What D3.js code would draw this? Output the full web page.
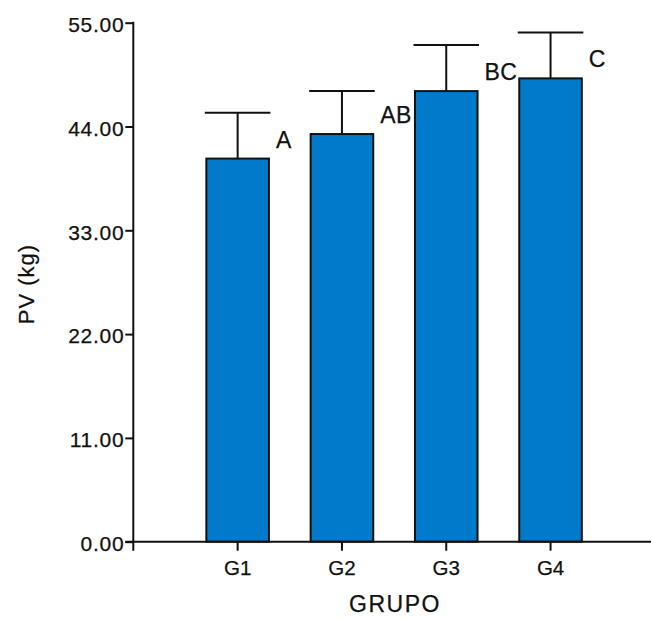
<!DOCTYPE html>
<html>
<head>
<meta charset="utf-8">
<script src="https://cdn.jsdelivr.net/npm/d3@7/dist/d3.min.js"></script>
<style>
  html, body { margin: 0; padding: 0; background: #fff; }
  svg { display: block; }
  text { font-family: "Liberation Sans", Arial, sans-serif; fill: #111; stroke: #111; stroke-width: 0.25px; }
</style>
</head>
<body>
<svg id="chart" width="651" height="619"></svg>
<script>
// ---- data ----
const groups = ["G1", "G2", "G3", "G4"];
const means = [40.6, 43.2, 47.75, 49.1];
const errTops = [45.45, 47.75, 52.65, 53.95];
const letters = ["A", "AB", "BC", "C"];
const yTicks = [0, 11, 22, 33, 44, 55];
const xTitle = "GRUPO";
const yTitle = "PV (kg)";

// ---- layout ----
const svg = d3.select("#chart");
const axisX = 133.3;
const y = d3.scaleLinear().domain([0, 55]).range([541.7, 22.7]);
const x = d3.scaleBand().domain(groups).range([185.5, 602.7])
  .paddingInner(0.4).paddingOuter(0.2);

const black = "#111";
const barColor = "#007bcc";

// bars
const g = svg.append("g");
g.selectAll("rect.bar").data(groups).join("rect")
  .attr("class", "bar")
  .attr("x", d => x(d))
  .attr("y", (d, i) => y(means[i]))
  .attr("width", x.bandwidth())
  .attr("height", (d, i) => y(0) - y(means[i]))
  .attr("fill", barColor)
  .attr("stroke", black)
  .attr("stroke-width", 2);

// error bars
const cx = d => x(d) + x.bandwidth() / 2;
const capHalf = x.bandwidth() / 2 + 1.5;
g.selectAll("line.err").data(groups).join("line")
  .attr("x1", cx).attr("x2", cx)
  .attr("y1", (d, i) => y(means[i]))
  .attr("y2", (d, i) => y(errTops[i]))
  .attr("stroke", black).attr("stroke-width", 2);
g.selectAll("line.cap").data(groups).join("line")
  .attr("x1", d => cx(d) - capHalf).attr("x2", d => cx(d) + capHalf)
  .attr("y1", (d, i) => y(errTops[i]))
  .attr("y2", (d, i) => y(errTops[i]))
  .attr("stroke", black).attr("stroke-width", 2);

// significance letters
g.selectAll("text.sig").data(groups).join("text")
  .attr("x", d => x(d) + x.bandwidth() + 7)
  .attr("y", (d, i) => y(means[i]) - 11)
  .attr("font-size", 23)
  .attr("letter-spacing", 0.3)
  .text((d, i) => letters[i]);

// y axis
const yAxis = d3.axisLeft(y).tickValues(yTicks)
  .tickFormat(d3.format(".2f")).tickSize(8).tickSizeOuter(0);
const ya = svg.append("g").attr("transform", `translate(${axisX},0)`).call(yAxis);
ya.select(".domain").remove();
ya.selectAll(".tick line").attr("stroke", black).attr("stroke-width", 2);
ya.selectAll(".tick text")
  .attr("font-size", 21).attr("letter-spacing", 0.7)
  .attr("x", -9).attr("dy", "0.42em")
  .style("font-family", '"Liberation Sans", Arial, sans-serif')
  .attr("fill", "#111");
svg.append("line")
  .attr("x1", axisX).attr("x2", axisX)
  .attr("y1", y(55) - 1).attr("y2", y(0) + 9)
  .attr("stroke", black).attr("stroke-width", 2);

// x axis
const xAxis = d3.axisBottom(x).tickSize(9).tickSizeOuter(0);
const xa = svg.append("g").attr("transform", `translate(0,${y(0)})`).call(xAxis);
xa.select(".domain").remove();
xa.selectAll(".tick line").attr("stroke", black).attr("stroke-width", 2);
xa.selectAll(".tick text")
  .attr("font-size", 20.5).attr("y", 33.3).attr("dy", 0)
  .style("font-family", '"Liberation Sans", Arial, sans-serif')
  .attr("fill", "#111");
svg.append("line")
  .attr("x1", axisX - 8).attr("x2", 660)
  .attr("y1", y(0)).attr("y2", y(0))
  .attr("stroke", black).attr("stroke-width", 2);

// titles
svg.append("text")
  .attr("x", 395).attr("y", 612)
  .attr("text-anchor", "middle")
  .attr("font-size", 23).attr("letter-spacing", 1.5)
  .text(xTitle);
svg.append("text")
  .attr("transform", "translate(34.3,284) rotate(-90)")
  .attr("text-anchor", "middle")
  .attr("font-size", 22).attr("letter-spacing", 1)
  .text(yTitle);
</script>
</body>
</html>
